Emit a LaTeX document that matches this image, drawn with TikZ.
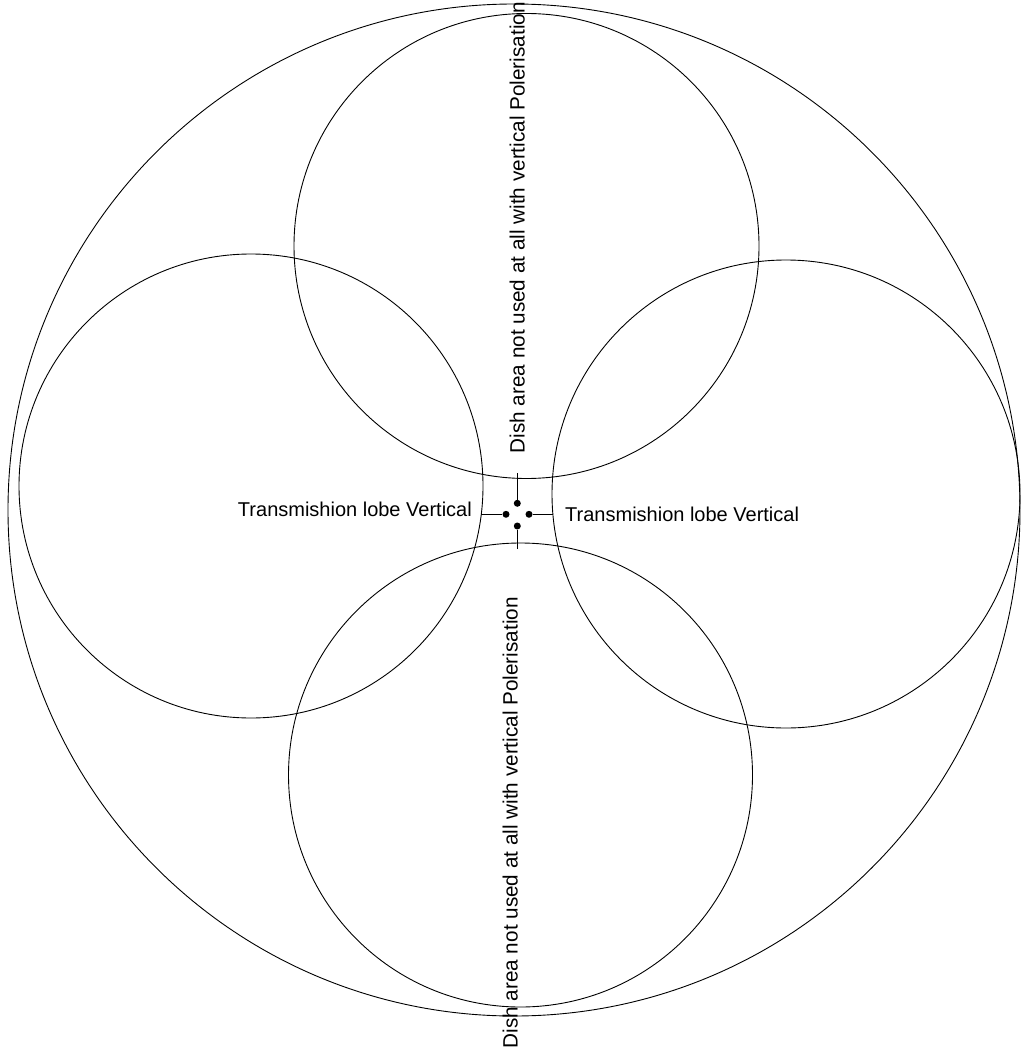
\documentclass[tikz,border=0pt]{standalone}
\usepackage{fontspec}
\setmainfont{Liberation Sans}
\begin{document}
\begin{tikzpicture}[x=1pt,y=-1pt,
  ring/.style={circle, draw=black, line width=0.9pt, inner sep=0pt},
  dot/.style={circle, fill=black, inner sep=0pt, minimum size=7pt},
  lbl/.style={font=\fontsize{20}{24}\selectfont, inner sep=0pt},
  vlbl/.style={font=\fontsize{20.7}{24}\selectfont, inner sep=0pt, rotate=90, anchor=base west},
  tick/.style={line width=1.3pt}]
\useasboundingbox (0,0) rectangle (1021,1048);
% circles
\node[ring, minimum size=1012pt] (outer) at (514,510) {};
\node[ring, minimum size=465pt] (topc) at (526.5,246) {};
\node[ring, minimum size=464pt] (leftc) at (251,486) {};
\node[ring, minimum size=468pt] (rightc) at (786,494) {};
\node[ring, minimum size=464pt] (botc) at (520.5,775) {};
% centre marks
\node[dot] (dT) at (517.3,503.3) {};
\node[dot] (dL) at (506,514.3) {};
\node[dot] (dR) at (529,514.3) {};
\node[dot] (dB) at (517.3,526) {};
\coordinate (eT) at (517.3,473);
\coordinate (eB) at (517.3,549);
\coordinate (eL) at (481,514.3);
\coordinate (eR) at (553,514.3);
\draw[tick] (eT) -- (dT);
\draw[tick] (eB) -- (dB);
\draw[tick] (eL) -- (dL);
\draw[tick] (eR) -- (dR);
% labels
\node[lbl, anchor=base east] (labL) at (472,516) {Transmishion lobe Vertical};
\node[lbl, anchor=base west] (labR) at (565,521) {Transmishion lobe Vertical};
\node[vlbl] (labT) at (524.5,453.5) {Dish area not used at all with vertical Polerisation};
\node[vlbl] (labB) at (517.5,1048.5) {Dish area not used at all with vertical Polerisation};
\end{tikzpicture}
\end{document}
